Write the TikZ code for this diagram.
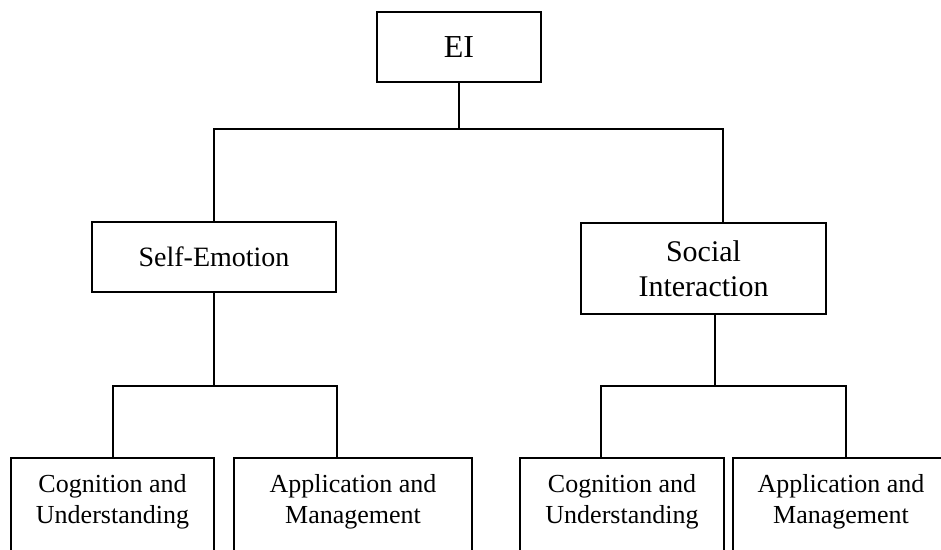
\documentclass[tikz,border=0pt]{standalone}
\usepackage{fontspec}
\setmainfont{Liberation Serif}
\usepackage{tikz}
\usetikzlibrary{positioning,calc}

\begin{document}
\begin{tikzpicture}[
          x=1pt,y=-1pt,line width=1.6pt,
          rootnode/.style={draw,inner sep=0pt,minimum width=164pt,minimum height=70pt,
            font=\fontsize{32}{38}\selectfont},
          dimnode/.style={draw,inner sep=0pt,minimum width=245pt,align=center},
          leafnode/.style={draw,anchor=north,inner sep=0pt,text height=35pt,text depth=160pt,
            font=\fontsize{26}{31}\selectfont}
          ]
          \useasboundingbox (0,0) rectangle (941,549);
          \clip (0,0) rectangle (941,549);
          % the root
          \node[rootnode] (ei) at (459,47) {EI};
          % the two dimensions
          \node[dimnode,minimum width=244pt,minimum height=70pt,font=\fontsize{28}{34}\selectfont] (self) at (214,257) {Self-Emotion};
          \node[dimnode,minimum height=91pt,font=\fontsize{30}{35}\selectfont] (social) at (703.5,268.5) {Social\\Interaction};
          % the leaves
          \node[leafnode,minimum width=203pt] (cogA) at (112.5,457)
            {\begin{tabular}[t]{@{}c@{}}Cognition and\\Understanding\end{tabular}};
          \node[leafnode,minimum width=238pt] (appA) at (353,457)
            {\begin{tabular}[t]{@{}c@{}}Application and\\Management\end{tabular}};
          \node[leafnode,minimum width=204pt] (cogB) at (622,457)
            {\begin{tabular}[t]{@{}c@{}}Cognition and\\Understanding\end{tabular}};
          \node[leafnode,minimum width=216pt] (appB) at (841,457)
            {\begin{tabular}[t]{@{}c@{}}Application and\\Management\end{tabular}};
          % the branch points
          \coordinate (split0) at (459,129);
          \coordinate (split1) at (214,386);
          \coordinate (split2) at (715,386);
          % the edges
          \draw (ei.south) -- (split0);
          \draw (self.north) |- (split0) -| ([xshift=19.5pt]social.north);
          \draw (self.south) -- (split1);
          \draw ([xshift=0.5pt]cogA.north) |- (split1) -| ([xshift=-16pt]appA.north);
          \draw ([xshift=11.5pt]social.south) -- (split2);
          \draw ([xshift=-21pt]cogB.north) |- (split2) -| ([xshift=5pt]appB.north);
        \end{tikzpicture}
\end{document}
